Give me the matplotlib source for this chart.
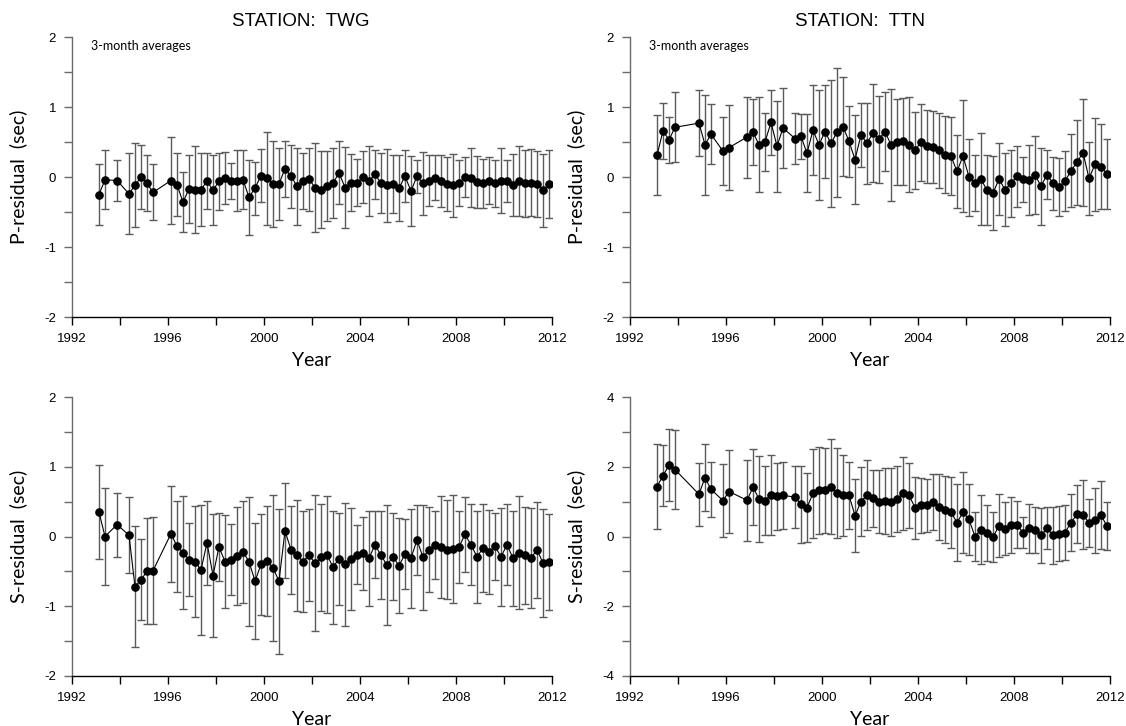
#!/usr/bin/env python3
"""Quarterly P and S residuals at stations TWG and TTN."""
import matplotlib
matplotlib.use("Agg")
import matplotlib.pyplot as plt
from matplotlib.ticker import MultipleLocator
import numpy as np

INK = "#000000"
AXIS_GREY = "#6a6a6a"
BAR_GREY = "#5a5a5a"
TICK_FONT = "Liberation Sans"
LABEL_FONT = "Lato"

# quarter numbers counted from 1993 Q1 (0 = Jan-Mar 1993)
TWG_QTR = [0, 1, 3, 5, 6, 7, 8, 9,
           12, 13, 14, 15, 16, 17, 18, 19, 20, 21, 22, 23, 24, 25, 26, 27,
           28, 29, 30, 31, 32, 33, 34, 35, 36, 37, 38, 39, 40, 41, 42, 43,
           44, 45, 46, 47, 48, 49, 50, 51, 52, 53, 54, 55, 56, 57, 58, 59,
           60, 61, 62, 63, 64, 65, 66, 67, 68, 69, 70, 71, 72, 73, 74, 75]
TTN_QTR = [0, 1, 2, 3, 7, 8, 9, 11, 12,
           15, 16, 17, 18, 19, 20, 21,
           23, 24, 25, 26, 27, 28, 29, 30, 31, 32, 33, 34, 35, 36, 37, 38,
           39, 40, 41, 42, 43, 44, 45, 46, 47, 48, 49, 50, 51, 52, 53, 54,
           55, 56, 57, 58, 59, 60, 61, 62, 63, 64, 65, 66, 67, 68, 69, 70,
           71, 72, 73, 74, 75]

TWG_P = [-0.25, -0.04, -0.05, -0.24, -0.12, 0.00, -0.09, -0.22,
         -0.05, -0.11, -0.36, -0.17, -0.18, -0.18, -0.06, -0.19, -0.06, -0.01,
         -0.06, -0.05, -0.04, -0.29, -0.16, 0.02, -0.02, -0.10, -0.10, 0.12,
         0.01, -0.13, -0.05, -0.03, -0.15, -0.18, -0.13, -0.09, 0.06, -0.15,
         -0.08, -0.08, 0.00, -0.06, 0.04, -0.09, -0.12, -0.10, -0.16, 0.01,
         -0.20, 0.01, -0.09, -0.05, -0.01, -0.06, -0.10, -0.12, -0.09, 0.00,
         -0.01, -0.07, -0.09, -0.05, -0.09, -0.05, -0.06, -0.11, -0.05, -0.09,
         -0.08, -0.10, -0.19, -0.10]
TWG_P_ERR = [0.44, 0.42, 0.29, 0.58, 0.60, 0.46, 0.40, 0.40,
             0.62, 0.45, 0.43, 0.48, 0.62, 0.52, 0.40, 0.50, 0.41, 0.37,
             0.26, 0.44, 0.42, 0.54, 0.38, 0.38, 0.66, 0.62, 0.52, 0.40,
             0.45, 0.55, 0.40, 0.45, 0.64, 0.55, 0.50, 0.50, 0.45, 0.58,
             0.41, 0.34, 0.37, 0.50, 0.35, 0.43, 0.52, 0.42, 0.47, 0.37,
             0.50, 0.24, 0.45, 0.37, 0.32, 0.37, 0.38, 0.45, 0.33, 0.28,
             0.42, 0.37, 0.35, 0.33, 0.34, 0.47, 0.30, 0.44, 0.50, 0.48,
             0.48, 0.47, 0.52, 0.48]

TWG_S = [0.35, 0.00, 0.17, 0.02, -0.72, -0.62, -0.50, -0.49,
         0.04, -0.14, -0.23, -0.33, -0.36, -0.48, -0.09, -0.56, -0.15, -0.36,
         -0.33, -0.28, -0.22, -0.36, -0.64, -0.40, -0.35, -0.45, -0.64, 0.08,
         -0.19, -0.27, -0.36, -0.27, -0.38, -0.30, -0.26, -0.44, -0.32, -0.40,
         -0.32, -0.26, -0.24, -0.31, -0.12, -0.27, -0.41, -0.29, -0.42, -0.25,
         -0.31, -0.05, -0.30, -0.19, -0.12, -0.15, -0.19, -0.18, -0.15, 0.03,
         -0.12, -0.29, -0.17, -0.22, -0.14, -0.29, -0.12, -0.31, -0.23, -0.27,
         -0.31, -0.19, -0.38, -0.37]
TWG_S_ERR = [0.67, 0.69, 0.46, 0.55, 0.87, 0.58, 0.76, 0.77,
             0.69, 0.65, 0.81, 0.53, 0.80, 0.93, 0.60, 0.88, 0.49, 0.67,
             0.51, 0.70, 0.73, 0.93, 0.83, 0.72, 0.79, 1.05, 1.04, 0.68,
             0.63, 0.80, 0.72, 0.66, 0.98, 0.77, 0.84, 0.81, 0.66, 0.88,
             0.73, 0.42, 0.52, 0.68, 0.48, 0.63, 0.86, 0.62, 0.68, 0.50,
             0.71, 0.50, 0.75, 0.61, 0.49, 0.73, 0.71, 0.77, 0.51, 0.54,
             0.58, 0.66, 0.63, 0.60, 0.48, 0.70, 0.58, 0.68, 0.81, 0.70,
             0.72, 0.69, 0.77, 0.69]

TTN_P = [0.31, 0.66, 0.53, 0.71, 0.77, 0.46, 0.61, 0.37, 0.42,
         0.57, 0.64, 0.46, 0.50, 0.78, 0.44, 0.70,
         0.55, 0.58, 0.34, 0.67, 0.46, 0.65, 0.48, 0.64, 0.72, 0.51, 0.25,
         0.60, 0.48, 0.63, 0.54, 0.65, 0.46, 0.50, 0.51, 0.46, 0.38, 0.50,
         0.44, 0.43, 0.38, 0.32, 0.30, 0.08, 0.30, 0.00, -0.08, -0.03, -0.19,
         -0.23, -0.03, -0.18, -0.09, 0.01, -0.03, -0.04, 0.03, -0.13, 0.03,
         -0.09, -0.14, -0.06, 0.09, 0.21, 0.35, -0.02, 0.18, 0.15, 0.04]
TTN_P_ERR = [0.57, 0.40, 0.33, 0.50, 0.47, 0.71, 0.43, 0.49, 0.61,
             0.58, 0.47, 0.68, 0.41, 0.46, 0.65, 0.57,
             0.37, 0.32, 0.56, 0.64, 0.79, 0.66, 0.91, 0.92, 0.71, 0.51, 0.64,
             0.46, 0.58, 0.70, 0.62, 0.56, 0.80, 0.61, 0.62, 0.68, 0.55, 0.55,
             0.52, 0.51, 0.53, 0.55, 0.56, 0.52, 0.80, 0.55, 0.40, 0.66, 0.50,
             0.53, 0.51, 0.52, 0.48, 0.44, 0.32, 0.50, 0.56, 0.55, 0.35,
             0.38, 0.41, 0.43, 0.52, 0.61, 0.77, 0.52, 0.66, 0.61, 0.50]

TTN_S = [1.43, 1.74, 2.05, 1.92, 1.21, 1.69, 1.35, 1.03, 1.29,
         1.04, 1.41, 1.08, 1.03, 1.20, 1.16, 1.18,
         1.13, 0.92, 0.83, 1.24, 1.32, 1.32, 1.43, 1.25, 1.18, 1.18, 0.60,
         1.00, 1.19, 1.09, 1.00, 1.02, 0.99, 1.07, 1.24, 1.18, 0.83, 0.89,
         0.89, 1.00, 0.85, 0.77, 0.70, 0.40, 0.69, 0.49, 0.00, 0.20, 0.10,
         -0.02, 0.31, 0.22, 0.33, 0.34, 0.11, 0.23, 0.19, 0.03, 0.24,
         0.03, 0.08, 0.11, 0.40, 0.64, 0.62, 0.39, 0.47, 0.61, 0.30]
TTN_S_ERR = [1.22, 0.87, 1.02, 1.14, 0.90, 0.97, 0.78, 1.04, 1.19,
             1.16, 1.09, 1.23, 0.99, 1.15, 0.96, 0.97,
             0.90, 1.10, 0.98, 1.27, 1.25, 1.23, 1.36, 1.30, 1.16, 0.97, 1.04,
             0.98, 0.99, 0.82, 0.90, 0.95, 0.97, 0.95, 1.04, 0.94, 0.89, 0.78,
             0.77, 0.80, 0.94, 0.96, 1.02, 1.10, 1.15, 1.01, 0.70, 1.00, 0.80,
             0.72, 0.90, 0.76, 0.79, 0.67, 0.44, 0.69, 0.67, 0.80, 0.60,
             0.81, 0.79, 0.78, 0.81, 0.83, 0.99, 0.69, 0.93, 0.98, 0.70]


def _qyear(qtr):
    """Quarter number -> decimal year at the middle of the quarter."""
    return 1993 + (np.asarray(qtr) + 0.5) / 4.0


def draw_panel(ax, qtr, vals, errs, ylabel, ylim, major, minor, note=False):
    x = _qyear(qtr)
    ax.errorbar(x, vals, yerr=errs, fmt="none", ecolor=BAR_GREY,
                elinewidth=1.0, capsize=2.6, capthick=1.0, zorder=2)
    ax.plot(x, vals, color=INK, lw=0.8, zorder=3)
    ax.plot(x, vals, "o", color=INK, ms=5.2, mec=INK, zorder=4)

    ax.set_xlim(1992, 2012)
    ax.set_ylim(*ylim)
    ax.xaxis.set_major_locator(MultipleLocator(4))
    ax.xaxis.set_minor_locator(MultipleLocator(2))
    ax.yaxis.set_major_locator(MultipleLocator(major))
    ax.yaxis.set_minor_locator(MultipleLocator(minor))
    ax.yaxis.set_major_formatter(matplotlib.ticker.FormatStrFormatter("%d"))

    for side in ("top", "right"):
        ax.spines[side].set_visible(False)
    ax.spines["left"].set_color(AXIS_GREY)
    ax.spines["left"].set_linewidth(1.0)
    ax.spines["bottom"].set_color(INK)
    ax.spines["bottom"].set_linewidth(1.0)

    ax.tick_params(axis="both", which="both", direction="out",
                   length=5.5, width=1.0)
    ax.tick_params(axis="x", which="both", colors=INK, pad=6)
    ax.tick_params(axis="y", which="both", color=AXIS_GREY, labelcolor=INK,
                   pad=6)
    for lab in ax.get_xticklabels() + ax.get_yticklabels():
        lab.set_fontfamily(TICK_FONT)
        lab.set_fontsize(9.5)

    ax.set_xlabel("Year", fontfamily=LABEL_FONT, fontsize=14, labelpad=5)
    ax.set_ylabel(ylabel, fontfamily=LABEL_FONT, fontsize=14, labelpad=12)
    if note:
        ax.text(0.04, 0.968, "3-month averages", transform=ax.transAxes,
                ha="left", va="center", fontfamily=LABEL_FONT, fontsize=9)


def main():
    fig = plt.figure(figsize=(11.26, 7.26), dpi=100, facecolor="white")
    W, H = 1126.0, 726.0

    def box(left, top, right, bottom):
        return [left / W, 1 - bottom / H, (right - left) / W, (bottom - top) / H]

    ax_tl = fig.add_axes(box(72, 37, 552, 317))
    ax_tr = fig.add_axes(box(630, 37, 1110, 317))
    ax_bl = fig.add_axes(box(72, 397, 552, 676))
    ax_br = fig.add_axes(box(630, 397, 1110, 676))

    draw_panel(ax_tl, TWG_QTR, TWG_P, TWG_P_ERR, "P-residual  (sec)",
               (-2, 2), 1, 0.5, note=True)
    draw_panel(ax_tr, TTN_QTR, TTN_P, TTN_P_ERR, "P-residual  (sec)",
               (-2, 2), 1, 0.5, note=True)
    draw_panel(ax_bl, TWG_QTR, TWG_S, TWG_S_ERR, "S-residual  (sec)",
               (-2, 2), 1, 0.5)
    draw_panel(ax_br, TTN_QTR, TTN_S, TTN_S_ERR, "S-residual  (sec)",
               (-4, 4), 2, 1)

    fig.text(301 / W, 1 - 21.5 / H, "STATION:  TWG", ha="center", va="center",
             fontfamily=TICK_FONT, fontsize=13.5)
    fig.text(860 / W, 1 - 21.5 / H, "STATION:  TTN", ha="center", va="center",
             fontfamily=TICK_FONT, fontsize=13.5)

    fig.savefig("out.png", dpi=100, facecolor="white")
    plt.close(fig)


if __name__ == "__main__":
    main()
